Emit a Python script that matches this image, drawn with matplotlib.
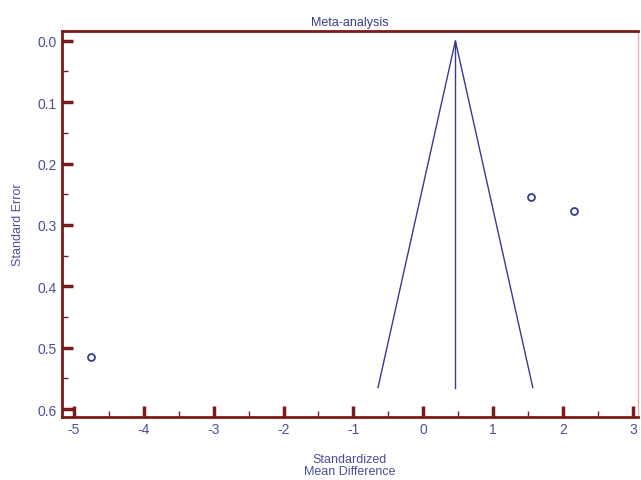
import matplotlib
matplotlib.use("Agg")
import matplotlib.pyplot as plt
import numpy as np
from matplotlib.ticker import MultipleLocator

plt.rcParams['font.family'] = ['Liberation Sans', 'DejaVu Sans']
plt.rcParams['axes.unicode_minus'] = False

# study points (standardized mean difference, standard error)
smd = [1.54, 2.15, -4.76]
se = [0.254, 0.277, 0.515]

# funnel
pooled = 0.46
se_max = 0.565

dark_red = '#7a1a1a'
blue = '#3a3a8c'
label_blue = '#4a4f9a'

fig = plt.figure(figsize=(6.41, 4.81), dpi=100)
ax = fig.add_axes([0.0967, 0.131, 0.8983, 0.8025])

# funnel lines
ax.plot([pooled - 1.96 * se_max, pooled, pooled + 1.96 * se_max], [se_max, 0, se_max],
        color=blue, lw=1.0)
ax.plot([pooled, pooled], [0, se_max], color=blue, lw=1.0)

ax.plot(smd, se, 'o', mfc='none', mec=blue, mew=1.3, ms=5)

ax.set_xlim(-5.17, 3.07)
ax.set_ylim(0.613, -0.016)

ax.xaxis.set_major_locator(MultipleLocator(1))
ax.xaxis.set_minor_locator(MultipleLocator(0.5))
ax.yaxis.set_major_locator(MultipleLocator(0.1))
ax.yaxis.set_minor_locator(MultipleLocator(0.05))
ax.yaxis.set_major_formatter(plt.FormatStrFormatter('%.1f'))

ax.tick_params(which='major', direction='in', length=8, width=2.5, color=dark_red,
               labelcolor=label_blue, labelsize=10)
ax.tick_params(which='minor', direction='in', length=4, width=1, color=dark_red)
ax.tick_params(top=False, right=False, which='both')

for s in ['left', 'bottom', 'top']:
    ax.spines[s].set_color(dark_red)
    ax.spines[s].set_linewidth(2)
ax.spines['right'].set_color('#e8b0b0')
ax.spines['right'].set_linewidth(1)

ax.set_title('Meta-analysis', color=blue, fontsize=9, pad=4)
ax.set_ylabel('Standard Error', color=label_blue, fontsize=9, labelpad=10)
ax.set_xlabel('Standardized\nMean Difference', color=label_blue, fontsize=9,
              labelpad=12, linespacing=1.05)

fig.savefig('out.png', dpi=100)
